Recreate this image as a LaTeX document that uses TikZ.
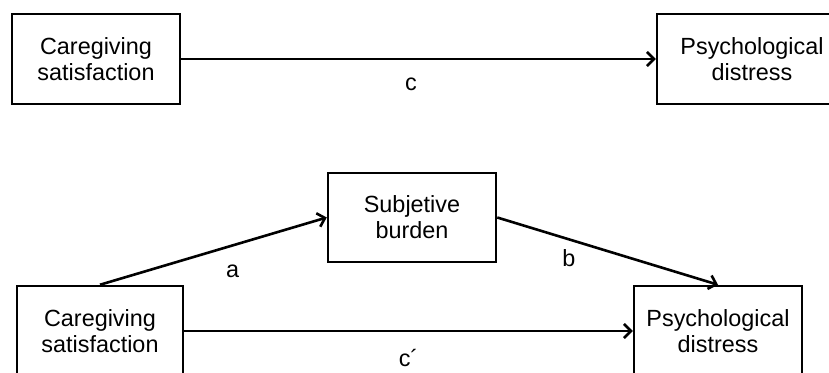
\documentclass[tikz,border=0pt]{standalone}
\usepackage{fontspec}
\setmainfont{Liberation Sans}
\usetikzlibrary{arrows.meta}

\tikzset{
  var/.style={draw, line width=1.25pt, align=center, inner sep=0pt,
    minimum width=84pt, minimum height=45pt, font=\fontsize{11.7}{13}\selectfont},
  path/.style={line width=1.3pt, -{Straight Barb[length=3.5pt,width=7pt]}},
  coef/.style={inner sep=0pt, font=\fontsize{11.7}{13}\selectfont}
}

\begin{document}
\begin{tikzpicture}[x=0.5pt,y=-0.5pt]
\useasboundingbox (0,0) rectangle (829,373);
\clip (0,0) rectangle (829,373);

\node[var] (satA) at (96,59) {Caregiving\\satisfaction};
\node[var, minimum width=95pt] (distA) at (752,59) {Psychological\\distress};
\draw[path] (satA) -- (distA) node[coef, pos=0.484, below=9pt] (lc) {c};

\node[var, minimum height=44.5pt] (burden) at (412,217.5) {Subjetive\\burden};
\node[var, minimum width=83pt] (satB) at (100,331) {Caregiving\\satisfaction};
\node[var] (distB) at (718,331) {Psychological\\distress};
\draw[path] (satB.north) -- (burden.west) node[coef, pos=0.585, below=9pt] (la) {a};
\draw[path] (burden.east) -- (distB.north) node[coef, pos=0.324, below=4.5pt] (lb) {b};
\draw[path] (satB) -- (distB) node[coef, pos=0.5, below=8.5pt] (lcp) {c´};
\end{tikzpicture}
\end{document}
